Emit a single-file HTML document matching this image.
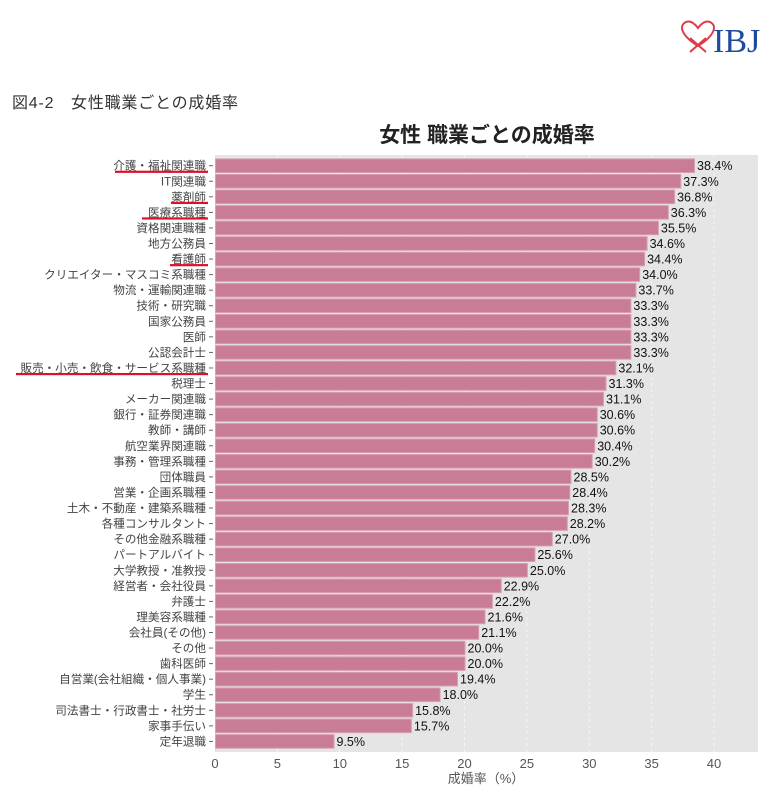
<!DOCTYPE html>
<html><head><meta charset="utf-8"><style>
body{margin:0;background:#fff;}
svg{display:block;font-family:"Liberation Sans","Noto Sans CJK JP",sans-serif;}
.b{fill:#c97c96;stroke:#d9a0b2;stroke-width:1}
.l{font-size:11.6px;fill:#444;text-anchor:end}
.v{font-size:12.5px;fill:#111}
.t{stroke:#666}
.u{fill:#e0102a}
</style></head><body>
<svg width="766" height="790" xmlns="http://www.w3.org/2000/svg">
<text x="713" y="52" font-family="Liberation Serif,serif" font-size="34" fill="#1d4c9c">IBJ</text>
<path d="M698 46 C682 36 678 26 686 22 C691 20 695 24 698 28 C701 24 705 20 710 22 C718 26 714 36 698 46 Z M690 52 L706 38 M706 52 L690 38" fill="none" stroke="#e03a48" stroke-width="2"/>
<text x="12" y="108" font-size="16" fill="#333" textLength="226">図4-2　女性職業ごとの成婚率</text>
<text x="487" y="142" font-size="21" font-weight="bold" fill="#222" text-anchor="middle">女性 職業ごとの成婚率</text>
<rect x="215" y="155" width="543" height="597" fill="#e5e5e5"/>
<g stroke="#f4f4f4" stroke-width="1" stroke-dasharray="3,3">
<line x1="277.4" y1="155" x2="277.4" y2="752"/><line x1="339.8" y1="155" x2="339.8" y2="752"/><line x1="402.1" y1="155" x2="402.1" y2="752"/><line x1="464.5" y1="155" x2="464.5" y2="752"/><line x1="526.9" y1="155" x2="526.9" y2="752"/><line x1="589.3" y1="155" x2="589.3" y2="752"/><line x1="651.6" y1="155" x2="651.6" y2="752"/><line x1="714" y1="155" x2="714" y2="752"/>
</g>
<g transform="translate(0,165.7)"><rect class="b" x="215.5" y="-6.8" width="479.0" height="13.6"/><text class="l" x="206" y="4">介護・福祉関連職</text><line class="t" x1="209" y1="0" x2="213" y2="0"/><text class="v" x="697" y="4.5">38.4%</text><rect class="u" x="115" y="5" width="93" height="2.2"/></g>
<g transform="translate(0,181.26)"><rect class="b" x="215.5" y="-6.8" width="465.3" height="13.6"/><text class="l" x="206" y="4">IT関連職</text><line class="t" x1="209" y1="0" x2="213" y2="0"/><text class="v" x="683.3" y="4.5">37.3%</text></g>
<g transform="translate(0,196.82)"><rect class="b" x="215.5" y="-6.8" width="459.1" height="13.6"/><text class="l" x="206" y="4">薬剤師</text><line class="t" x1="209" y1="0" x2="213" y2="0"/><text class="v" x="677.1" y="4.5">36.8%</text><rect class="u" x="171" y="5" width="37" height="2.2"/></g>
<g transform="translate(0,212.38)"><rect class="b" x="215.5" y="-6.8" width="452.8" height="13.6"/><text class="l" x="206" y="4">医療系職種</text><line class="t" x1="209" y1="0" x2="213" y2="0"/><text class="v" x="670.8" y="4.5">36.3%</text><rect class="u" x="142" y="5" width="66" height="2.2"/></g>
<g transform="translate(0,227.94)"><rect class="b" x="215.5" y="-6.8" width="442.9" height="13.6"/><text class="l" x="206" y="4">資格関連職種</text><line class="t" x1="209" y1="0" x2="213" y2="0"/><text class="v" x="660.9" y="4.5">35.5%</text></g>
<g transform="translate(0,243.5)"><rect class="b" x="215.5" y="-6.8" width="431.6" height="13.6"/><text class="l" x="206" y="4">地方公務員</text><line class="t" x1="209" y1="0" x2="213" y2="0"/><text class="v" x="649.6" y="4.5">34.6%</text></g>
<g transform="translate(0,259.06)"><rect class="b" x="215.5" y="-6.8" width="429.1" height="13.6"/><text class="l" x="206" y="4">看護師</text><line class="t" x1="209" y1="0" x2="213" y2="0"/><text class="v" x="647.1" y="4.5">34.4%</text><rect class="u" x="170" y="5" width="38" height="2.2"/></g>
<g transform="translate(0,274.62)"><rect class="b" x="215.5" y="-6.8" width="424.2" height="13.6"/><text class="l" x="206" y="4">クリエイター・マスコミ系職種</text><line class="t" x1="209" y1="0" x2="213" y2="0"/><text class="v" x="642.2" y="4.5">34.0%</text></g>
<g transform="translate(0,290.18)"><rect class="b" x="215.5" y="-6.8" width="420.4" height="13.6"/><text class="l" x="206" y="4">物流・運輸関連職</text><line class="t" x1="209" y1="0" x2="213" y2="0"/><text class="v" x="638.4" y="4.5">33.7%</text></g>
<g transform="translate(0,305.74)"><rect class="b" x="215.5" y="-6.8" width="415.4" height="13.6"/><text class="l" x="206" y="4">技術・研究職</text><line class="t" x1="209" y1="0" x2="213" y2="0"/><text class="v" x="633.4" y="4.5">33.3%</text></g>
<g transform="translate(0,321.3)"><rect class="b" x="215.5" y="-6.8" width="415.4" height="13.6"/><text class="l" x="206" y="4">国家公務員</text><line class="t" x1="209" y1="0" x2="213" y2="0"/><text class="v" x="633.4" y="4.5">33.3%</text></g>
<g transform="translate(0,336.86)"><rect class="b" x="215.5" y="-6.8" width="415.4" height="13.6"/><text class="l" x="206" y="4">医師</text><line class="t" x1="209" y1="0" x2="213" y2="0"/><text class="v" x="633.4" y="4.5">33.3%</text></g>
<g transform="translate(0,352.42)"><rect class="b" x="215.5" y="-6.8" width="415.4" height="13.6"/><text class="l" x="206" y="4">公認会計士</text><line class="t" x1="209" y1="0" x2="213" y2="0"/><text class="v" x="633.4" y="4.5">33.3%</text></g>
<g transform="translate(0,367.98)"><rect class="b" x="215.5" y="-6.8" width="400.4" height="13.6"/><text class="l" x="206" y="4">販売・小売・飲食・サービス系職種</text><line class="t" x1="209" y1="0" x2="213" y2="0"/><text class="v" x="618.4" y="4.5">32.1%</text><rect class="u" x="16" y="5" width="192" height="2.2"/></g>
<g transform="translate(0,383.54)"><rect class="b" x="215.5" y="-6.8" width="390.5" height="13.6"/><text class="l" x="206" y="4">税理士</text><line class="t" x1="209" y1="0" x2="213" y2="0"/><text class="v" x="608.5" y="4.5">31.3%</text></g>
<g transform="translate(0,399.1)"><rect class="b" x="215.5" y="-6.8" width="388.0" height="13.6"/><text class="l" x="206" y="4">メーカー関連職</text><line class="t" x1="209" y1="0" x2="213" y2="0"/><text class="v" x="606" y="4.5">31.1%</text></g>
<g transform="translate(0,414.66)"><rect class="b" x="215.5" y="-6.8" width="381.7" height="13.6"/><text class="l" x="206" y="4">銀行・証券関連職</text><line class="t" x1="209" y1="0" x2="213" y2="0"/><text class="v" x="599.7" y="4.5">30.6%</text></g>
<g transform="translate(0,430.22)"><rect class="b" x="215.5" y="-6.8" width="381.7" height="13.6"/><text class="l" x="206" y="4">教師・講師</text><line class="t" x1="209" y1="0" x2="213" y2="0"/><text class="v" x="599.7" y="4.5">30.6%</text></g>
<g transform="translate(0,445.78)"><rect class="b" x="215.5" y="-6.8" width="379.2" height="13.6"/><text class="l" x="206" y="4">航空業界関連職</text><line class="t" x1="209" y1="0" x2="213" y2="0"/><text class="v" x="597.2" y="4.5">30.4%</text></g>
<g transform="translate(0,461.34)"><rect class="b" x="215.5" y="-6.8" width="376.7" height="13.6"/><text class="l" x="206" y="4">事務・管理系職種</text><line class="t" x1="209" y1="0" x2="213" y2="0"/><text class="v" x="594.7" y="4.5">30.2%</text></g>
<g transform="translate(0,476.9)"><rect class="b" x="215.5" y="-6.8" width="355.5" height="13.6"/><text class="l" x="206" y="4">団体職員</text><line class="t" x1="209" y1="0" x2="213" y2="0"/><text class="v" x="573.5" y="4.5">28.5%</text></g>
<g transform="translate(0,492.46)"><rect class="b" x="215.5" y="-6.8" width="354.3" height="13.6"/><text class="l" x="206" y="4">営業・企画系職種</text><line class="t" x1="209" y1="0" x2="213" y2="0"/><text class="v" x="572.3" y="4.5">28.4%</text></g>
<g transform="translate(0,508.02)"><rect class="b" x="215.5" y="-6.8" width="353.0" height="13.6"/><text class="l" x="206" y="4">土木・不動産・建築系職種</text><line class="t" x1="209" y1="0" x2="213" y2="0"/><text class="v" x="571" y="4.5">28.3%</text></g>
<g transform="translate(0,523.58)"><rect class="b" x="215.5" y="-6.8" width="351.8" height="13.6"/><text class="l" x="206" y="4">各種コンサルタント</text><line class="t" x1="209" y1="0" x2="213" y2="0"/><text class="v" x="569.8" y="4.5">28.2%</text></g>
<g transform="translate(0,539.14)"><rect class="b" x="215.5" y="-6.8" width="336.8" height="13.6"/><text class="l" x="206" y="4">その他金融系職種</text><line class="t" x1="209" y1="0" x2="213" y2="0"/><text class="v" x="554.8" y="4.5">27.0%</text></g>
<g transform="translate(0,554.7)"><rect class="b" x="215.5" y="-6.8" width="319.4" height="13.6"/><text class="l" x="206" y="4">パートアルバイト</text><line class="t" x1="209" y1="0" x2="213" y2="0"/><text class="v" x="537.4" y="4.5">25.6%</text></g>
<g transform="translate(0,570.26)"><rect class="b" x="215.5" y="-6.8" width="311.9" height="13.6"/><text class="l" x="206" y="4">大学教授・准教授</text><line class="t" x1="209" y1="0" x2="213" y2="0"/><text class="v" x="529.9" y="4.5">25.0%</text></g>
<g transform="translate(0,585.82)"><rect class="b" x="215.5" y="-6.8" width="285.7" height="13.6"/><text class="l" x="206" y="4">経営者・会社役員</text><line class="t" x1="209" y1="0" x2="213" y2="0"/><text class="v" x="503.7" y="4.5">22.9%</text></g>
<g transform="translate(0,601.38)"><rect class="b" x="215.5" y="-6.8" width="276.9" height="13.6"/><text class="l" x="206" y="4">弁護士</text><line class="t" x1="209" y1="0" x2="213" y2="0"/><text class="v" x="494.9" y="4.5">22.2%</text></g>
<g transform="translate(0,616.94)"><rect class="b" x="215.5" y="-6.8" width="269.5" height="13.6"/><text class="l" x="206" y="4">理美容系職種</text><line class="t" x1="209" y1="0" x2="213" y2="0"/><text class="v" x="487.5" y="4.5">21.6%</text></g>
<g transform="translate(0,632.5)"><rect class="b" x="215.5" y="-6.8" width="263.2" height="13.6"/><text class="l" x="206" y="4">会社員(その他)</text><line class="t" x1="209" y1="0" x2="213" y2="0"/><text class="v" x="481.2" y="4.5">21.1%</text></g>
<g transform="translate(0,648.06)"><rect class="b" x="215.5" y="-6.8" width="249.5" height="13.6"/><text class="l" x="206" y="4">その他</text><line class="t" x1="209" y1="0" x2="213" y2="0"/><text class="v" x="467.5" y="4.5">20.0%</text></g>
<g transform="translate(0,663.62)"><rect class="b" x="215.5" y="-6.8" width="249.5" height="13.6"/><text class="l" x="206" y="4">歯科医師</text><line class="t" x1="209" y1="0" x2="213" y2="0"/><text class="v" x="467.5" y="4.5">20.0%</text></g>
<g transform="translate(0,679.18)"><rect class="b" x="215.5" y="-6.8" width="242.0" height="13.6"/><text class="l" x="206" y="4">自営業(会社組織・個人事業)</text><line class="t" x1="209" y1="0" x2="213" y2="0"/><text class="v" x="460" y="4.5">19.4%</text></g>
<g transform="translate(0,694.74)"><rect class="b" x="215.5" y="-6.8" width="224.6" height="13.6"/><text class="l" x="206" y="4">学生</text><line class="t" x1="209" y1="0" x2="213" y2="0"/><text class="v" x="442.6" y="4.5">18.0%</text></g>
<g transform="translate(0,710.3)"><rect class="b" x="215.5" y="-6.8" width="197.1" height="13.6"/><text class="l" x="206" y="4">司法書士・行政書士・社労士</text><line class="t" x1="209" y1="0" x2="213" y2="0"/><text class="v" x="415.1" y="4.5">15.8%</text></g>
<g transform="translate(0,725.86)"><rect class="b" x="215.5" y="-6.8" width="195.9" height="13.6"/><text class="l" x="206" y="4">家事手伝い</text><line class="t" x1="209" y1="0" x2="213" y2="0"/><text class="v" x="413.9" y="4.5">15.7%</text></g>
<g transform="translate(0,741.42)"><rect class="b" x="215.5" y="-6.8" width="118.5" height="13.6"/><text class="l" x="206" y="4">定年退職</text><line class="t" x1="209" y1="0" x2="213" y2="0"/><text class="v" x="336.5" y="4.5">9.5%</text></g>
<g font-size="13" fill="#555" text-anchor="middle">
<text x="215" y="768">0</text><text x="277.4" y="768">5</text><text x="339.8" y="768">10</text><text x="402.1" y="768">15</text><text x="464.5" y="768">20</text><text x="526.9" y="768">25</text><text x="589.3" y="768">30</text><text x="651.6" y="768">35</text><text x="714" y="768">40</text>
<text x="486" y="783">成婚率（%）</text>
</g>
</svg>
</body></html>
